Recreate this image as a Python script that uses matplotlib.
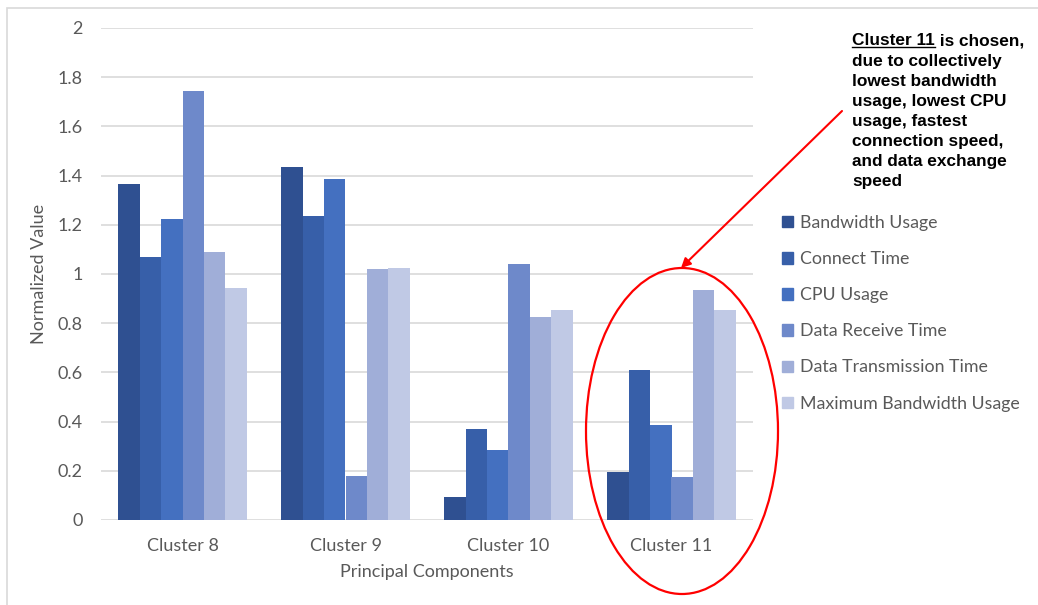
import numpy as np
import matplotlib
matplotlib.use('Agg')
import matplotlib.pyplot as plt
from matplotlib.patches import Ellipse, Rectangle, Patch

clusters = ['Cluster 8', 'Cluster 9', 'Cluster 10', 'Cluster 11']
series_names = ['Bandwidth Usage', 'Connect Time', 'CPU Usage',
                'Data Receive Time', 'Data Transmission Time',
                'Maximum Bandwidth Usage']
bandwidth_usage = [1.365, 1.435, 0.095, 0.195]
connect_time = [1.07, 1.235, 0.37, 0.61]
cpu_usage = [1.225, 1.385, 0.285, 0.385]
data_receive_time = [1.745, 0.18, 1.04, 0.175]
data_transmission_time = [1.09, 1.02, 0.825, 0.935]
max_bandwidth_usage = [0.945, 1.025, 0.855, 0.855]
colors = ['#2F5091', '#375FA9', '#4470C0', '#6E89CA', '#A0AED8', '#C0C9E5']

series = [bandwidth_usage, connect_time, cpu_usage,
          data_receive_time, data_transmission_time, max_bandwidth_usage]

plt.rcParams['font.family'] = ['Lato', 'DejaVu Sans']
W, H = 1038, 605
fig = plt.figure(figsize=(W / 100, H / 100), dpi=100)

# light frame around the chart
fig.patches.append(Rectangle((7 / W, -0.1), 1.2, 1 - 8 / H + 0.1,
                             transform=fig.transFigure, fill=False,
                             edgecolor='#D9D9D9', linewidth=1.2))

ax = fig.add_axes([101 / W, 85 / H, 652 / W, 492 / H])
x = np.arange(len(clusters))
bw = 1 / 7.6
for i, (vals, c) in enumerate(zip(series, colors)):
    ax.bar(x + (i - 2.5) * bw, vals, width=bw, color=c, label=series_names[i],
           zorder=3)

ax.set_xlim(-0.5, len(clusters) - 0.5)
ax.set_ylim(0, 2)
ax.set_yticks(np.arange(0, 2.01, 0.2))
ax.set_yticklabels(['0', '0.2', '0.4', '0.6', '0.8', '1', '1.2', '1.4',
                    '1.6', '1.8', '2'])
ax.set_xticks(x)
ax.set_xticklabels(clusters)
ax.grid(axis='y', color='#D9D9D9', linewidth=1.2, zorder=0)
for s in ax.spines.values():
    s.set_visible(False)
ax.tick_params(length=0, labelsize=13, colors='#595959', pad=13)
ax.tick_params(axis='x', pad=13)
ax.set_xlabel('Principal Components', fontsize=13, color='#595959', labelpad=7)
ax.set_ylabel('Normalized Value', fontsize=13, color='#595959', labelpad=8)

handles = [Patch(color=c) for c in colors]
fig.legend(handles, series_names, loc='upper left',
           bbox_to_anchor=(775 / W, 1 - 208 / H), frameon=False,
           fontsize=12.8, labelcolor='#595959', handlelength=0.6,
           handleheight=0.6, handletextpad=0.4, labelspacing=1.13,
           borderaxespad=0)

# annotation pointing at the chosen cluster
ell = Ellipse((682 / W, 1 - 431 / H), 192 / W, 326 / H,
              transform=fig.transFigure, fill=False, edgecolor='#FF0000',
              linewidth=1.6)
fig.patches.append(ell)
ax.annotate('', xy=(681 / W, 1 - 268 / H), xycoords='figure fraction',
            xytext=(842 / W, 1 - 111 / H), textcoords='figure fraction',
            arrowprops=dict(arrowstyle='-|>', color='#FF0000', lw=1.5,
                            mutation_scale=14, shrinkA=0, shrinkB=0))

note_font = dict(family=['Liberation Sans', 'DejaVu Sans'], fontsize=12.4,
                 fontweight='bold', color='black')
t1 = fig.text(852 / W, 1 - 33 / H, 'Cluster 11', va='top', ha='left',
              **note_font)
fig.canvas.draw()
bb = t1.get_window_extent().transformed(fig.transFigure.inverted())
fig.text(bb.x1, bb.y1, ' is chosen,', va='top', ha='left', **note_font)
fig.text(852 / W, 1 - 54 / H,
         'due to collectively\nlowest bandwidth\nusage, lowest CPU\n'
         'usage, fastest\nconnection speed,\nand data exchange\nspeed',
         va='top', ha='left', linespacing=1.42, **note_font)
fig.add_artist(plt.Line2D([bb.x0, bb.x1], [bb.y0 + 1 / H, bb.y0 + 1 / H],
                          transform=fig.transFigure, color='black', lw=1))

fig.savefig('out.png', dpi=100)
